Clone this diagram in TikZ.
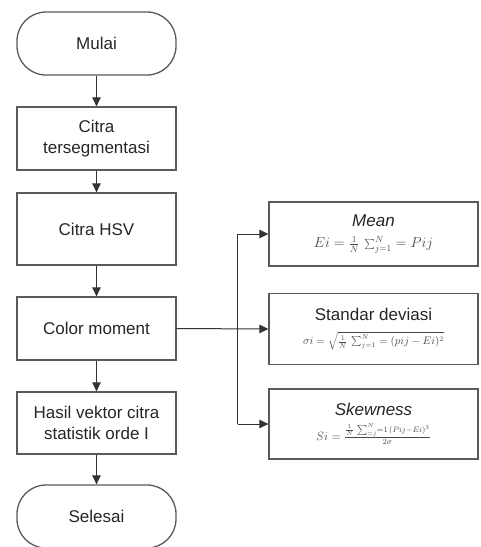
\documentclass[tikz,border=0pt]{standalone}
\usepackage{fontspec}
\setmainfont{Liberation Sans}
\usetikzlibrary{arrows.meta}
\definecolor{boxline}{HTML}{5A5A5A}
\definecolor{conn}{HTML}{333333}
\definecolor{txt}{HTML}{262626}
\tikzset{
  x=1pt,y=1pt,
  base/.style={draw=boxline, line width=1.3pt, fill=white, text=txt, align=center,
    inner sep=0pt, font=\fontsize{17}{21.5}\selectfont},
  procbox/.style={base, minimum width=159pt},
  termbox/.style={base, minimum width=159pt, minimum height=63pt, rounded corners=29pt},
  eqbox/.style={base, minimum width=209pt},
  link/.style={draw=conn, line width=1pt, -{Triangle[length=9pt,width=8.5pt]}},
  plain/.style={draw=conn, line width=1pt}
}
\newcommand{\frm}[2]{{\fontsize{#1}{#1}\selectfont\color{txt!85}$#2$}}
\begin{document}
\begin{tikzpicture}
\useasboundingbox (0,0) rectangle (480,-547);
\begin{scope}
\clip (0,0) rectangle (480,-547);
\node[termbox] (mulai) at (96.5,-43.5) {Mulai};
\node[procbox, minimum height=63pt] (citra) at (96.5,-138.5) {Citra\\tersegmentasi};
\node[procbox, minimum height=72pt] (hsv) at (96.5,-229) {Citra HSV};
\node[procbox, minimum height=63pt] (cm) at (96.5,-328.5) {Color moment};
\node[procbox, minimum height=62pt] (hasil) at (96.5,-423) {Hasil vektor citra\\statistik orde I};
\node[termbox] (selesai) at (96.5,-516.5) {Selesai};

\node[eqbox, minimum height=64pt] (mean) at (373.5,-234) {\raisebox{-3pt}{\textit{Mean}}\\[3pt]\frm{13.5}{Ei=\frac{1}{N}\,\sum_{j=1}^{N}=Pij}};
\node[eqbox, minimum height=71pt] (std) at (373.5,-329) {Standar deviasi\\[3pt]\frm{10.5}{\sigma i=\sqrt{\frac{1}{N}\,\sum_{j=1}^{N}=(pij-Ei)^2}}};
\node[eqbox, minimum height=70pt] (skew) at (373.5,-424) {\textit{Skewness}\\[3pt]\frm{11.5}{Si=\frac{\frac{1}{N}\,\sum_{=j}^{N}=1\,(Pij-Ei)^3}{2\sigma}}};

\path[link] (mulai) -- (citra);
\path[link] (citra) -- (hsv);
\path[link] (hsv) -- (cm);
\path[link] (cm) -- (hasil);
\path[link] (hasil) -- (selesai);

\coordinate (split) at (237.5,-329);
\path[link] (cm.east) -- (std.west);
\path[plain] (split |- mean.west) -- (split |- skew.west);
\path[link] (split |- mean.west) -- (mean.west);
\path[link] (split |- skew.west) -- (skew.west);
\end{scope}
\end{tikzpicture}
\end{document}
